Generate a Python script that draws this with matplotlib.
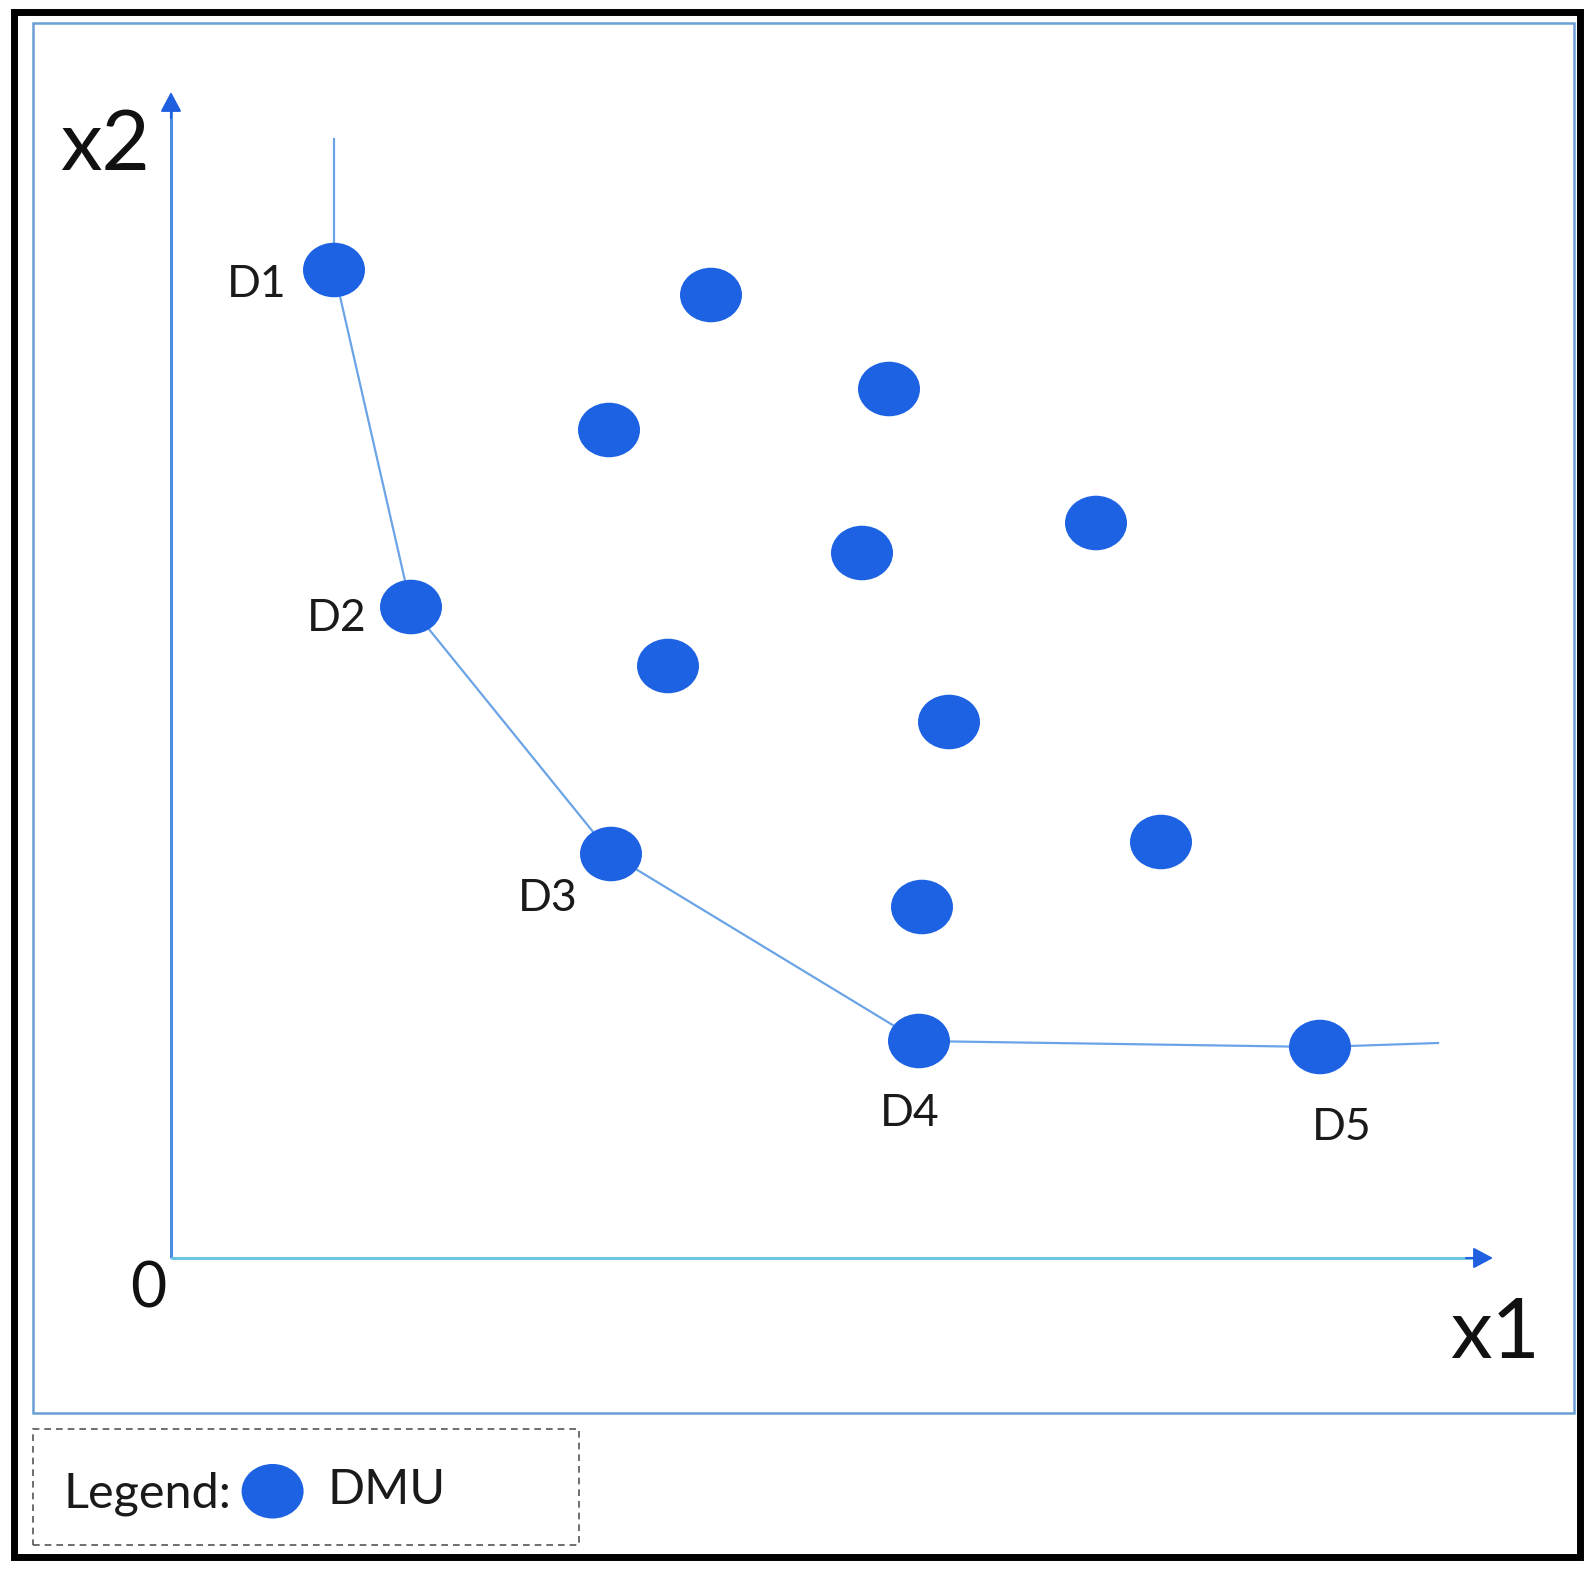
import matplotlib.pyplot as plt
from matplotlib.path import Path
from matplotlib.transforms import Affine2D
from matplotlib.patches import Rectangle

plt.rcParams['font.family'] = ['Lato', 'DejaVu Sans']

# DMU positions (x1, x2)
dmu_x = [1.63, 2.40, 4.40, 7.48, 11.49, 5.40, 7.18, 4.38, 9.25, 6.91, 4.97, 7.78, 9.90, 7.51]
dmu_y = [9.88, 6.51, 4.04, 2.17, 2.11, 9.63, 8.69, 8.28, 7.35, 7.05, 5.92, 5.36, 4.16, 3.51]

# efficient frontier (goes up from D1 and out past D5)
front_x = [1.63, 1.63, 2.40, 4.40, 7.48, 11.49, 12.67]
front_y = [11.19, 9.88, 6.51, 4.04, 2.17, 2.11, 2.15]

# labels of the efficient DMUs
lab_text = ['D1', 'D2', 'D3', 'D4', 'D5']
lab_x = [0.86, 1.66, 3.77, 7.39, 11.71]
lab_y = [9.61, 6.27, 3.47, 1.32, 1.18]

W, H = 1593, 1571
fig = plt.figure(figsize=(W / 100, H / 100), dpi=100)
ax = fig.add_axes([0, 0, 1, 1])
# 100 px per unit, origin at pixel (171, 1258)
ax.set_xlim(-1.71, (W - 171) / 100)
ax.set_ylim(-(H - 1258) / 100, 12.58)
ax.axis('off')


def px_rect(x0, y0, x1, y1, **kw):
    r = Rectangle((x0 / W, 1 - y1 / H), (x1 - x0) / W, (y1 - y0) / H,
                  transform=fig.transFigure, fill=False, **kw)
    fig.patches.append(r)


# frames
px_rect(13.5, 11.5, 1579.5, 1556.5, edgecolor='black', linewidth=5.0)
px_rect(33, 23, 1574, 1413, edgecolor='#6A9FD4', linewidth=1.8)
px_rect(33, 1429, 579, 1545, edgecolor='#555555', linewidth=1.2, linestyle=(0, (4, 3)))

# axes with arrows
ax.plot([0, 0], [0, 11.5], color='#4C8EE0', lw=2.2, solid_capstyle='butt')
ax.plot([0, 13.05], [0, 0], color='#6CC6E2', lw=2.2, solid_capstyle='butt')
arrow = dict(arrowstyle='-|>,head_length=0.6,head_width=0.32', color='#1F5FE0',
             mutation_scale=20, shrinkA=0, shrinkB=0, lw=1.5)
ax.annotate('', xy=(0, 11.66), xytext=(0, 11.4), arrowprops=arrow)
ax.annotate('', xy=(13.22, 0), xytext=(12.95, 0), arrowprops=arrow)

# frontier
ax.plot(front_x, front_y, color='#6BA4E6', lw=1.6, zorder=2)

# slightly flattened circle marker
ell = Path.unit_circle().transformed(Affine2D().scale(1.0, 0.88))
pts = ax.scatter(dmu_x, dmu_y, s=(62 * 0.72) ** 2, marker=ell, color='#1D62E3',
                 edgecolors='none', zorder=3, label='DMU')

for t, x, y in zip(lab_text, lab_x, lab_y):
    ax.text(x, y, t, fontsize=32, ha='center', va='baseline', color='#1a1a1a')

ax.text(-0.66, 10.88, 'x2', fontsize=60, ha='center', va='baseline', color='#111111')
ax.text(-0.23, -0.50, '0', fontsize=45, ha='center', va='baseline', color='#111111')
ax.text(13.24, -1.00, 'x1', fontsize=60, ha='center', va='baseline', color='#111111')

# legend
fig.text(63 / W, 1 - 1507 / H, 'Legend:', fontsize=35, ha='left', va='baseline', color='#1a1a1a')
fig.legend(handles=[pts], labels=['DMU'], loc='center left',
           bbox_to_anchor=(241 / W, 1 - 1490 / H), frameon=False,
           borderaxespad=0, borderpad=0, handlelength=1.3, handletextpad=0.47,
           fontsize=35, scatterpoints=1, labelcolor='#1a1a1a')

fig.savefig('out.png', dpi=100, facecolor='white')
